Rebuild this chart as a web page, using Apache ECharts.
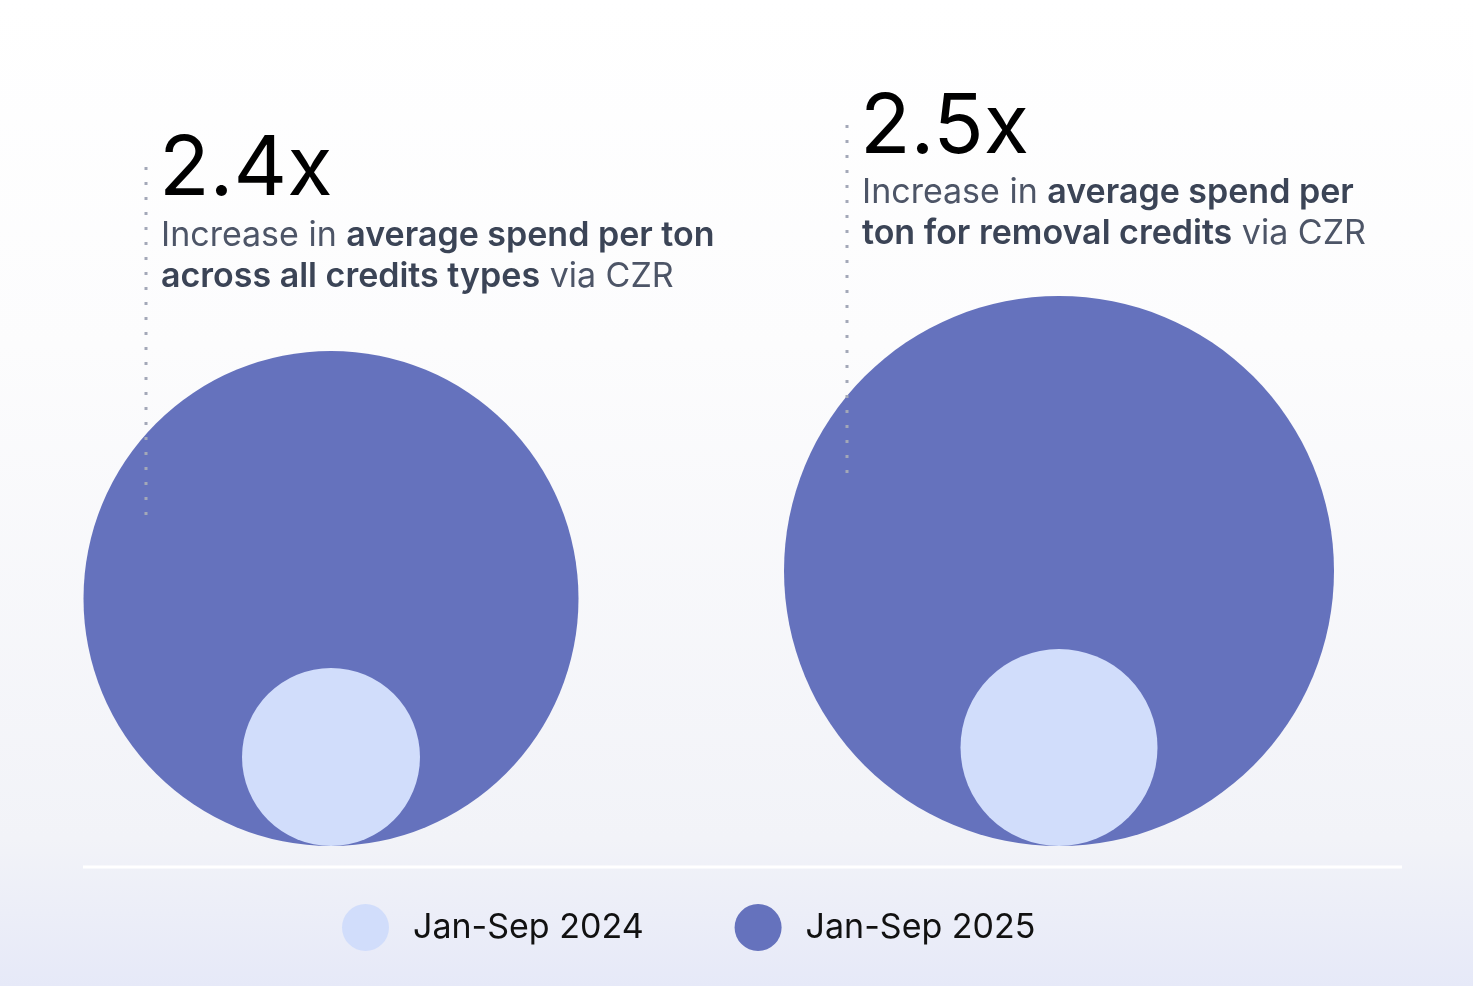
<!DOCTYPE html>
<html><head><meta charset="utf-8">
<script src="https://cdn.jsdelivr.net/npm/echarts@6/dist/echarts.min.js"></script>
<style>html,body{margin:0;padding:0;}#c{width:1473px;height:986px;}</style>
</head><body><div id="c"></div>
<script>
// Data
const categories = ['All credit types', 'Removal credits'];
const seriesNames = ['Jan-Sep 2024', 'Jan-Sep 2025'];
// relative circle sizes (diameter, in chart units)
const size2024 = [178, 197];
const size2025 = [495, 550];
const multipliers = ['2.4x', '2.5x'];
const colors = ['#D1DDFB', '#6572BD'];

const chart = echarts.init(document.getElementById('c'));

function circleRender(params, api) {
  const d = api.value(1);
  const c = api.coord([api.value(0), d / 2]);
  const r = api.size([0, d])[1] / 2;
  return { type: 'circle', shape: { cx: c[0], cy: c[1], r: r }, style: { fill: api.visual('color') } };
}

const regular = { fontFamily: 'Inter', fontSize: 34, fill: '#4d5567', fontWeight: 400 };
const bold = { fontFamily: 'Inter', fontSize: 34, fill: '#3b4456', fontWeight: 600 };

function annotation(x, lineTop, lineBottom, numY, textY, lines) {
  return [
    { type: 'line', z: 100, shape: { x1: x, y1: lineTop, x2: x, y2: lineBottom },
      style: { stroke: '#a3a8b8', lineWidth: 3, lineDash: [3, 12] } },
    { type: 'text', z: 100, x: x + 13, y: numY,
      style: { text: multipliers[lines.idx], fontFamily: 'Inter', fontSize: 83, fill: '#000', verticalAlign: 'middle' } },
    { type: 'text', z: 100, x: x + 15, y: textY,
      style: { text: lines.text, rich: { r: regular, b: bold }, lineHeight: 41, verticalAlign: 'top', fontFamily: 'Inter', fontSize: 34 } }
  ];
}

const option = {
  backgroundColor: new echarts.graphic.LinearGradient(0, 0, 0, 1, [
    { offset: 0, color: '#ffffff' },
    { offset: 0.35, color: '#fcfcfd' },
    { offset: 0.85, color: '#f2f3f8' },
    { offset: 1, color: '#e6e9f8' }
  ]),
  animation: false,
  grid: { left: 331, right: 414, top: 246, bottom: 140 },
  xAxis: { type: 'category', data: categories, boundaryGap: false, show: false },
  yAxis: { type: 'value', min: 0, max: 600, show: false },
  legend: {
    data: seriesNames, left: 342, top: 904, padding: 0, icon: 'circle', itemWidth: 47, itemHeight: 47, itemGap: 91,
    textStyle: { fontFamily: 'Inter', fontSize: 34, color: '#111', padding: [0, 0, 0, 19] }
  },
  series: [
    { name: seriesNames[0], type: 'custom', z: 3, color: colors[0], itemStyle: { color: colors[0] },
      renderItem: circleRender, data: size2024.map((v, i) => [i, v]) },
    { name: seriesNames[1], type: 'custom', z: 2, color: colors[1], itemStyle: { color: colors[1] },
      renderItem: circleRender, data: size2025.map((v, i) => [i, v]) }
  ],
  graphic: [
    { type: 'line', shape: { x1: 83, y1: 867, x2: 1402, y2: 867 }, style: { stroke: '#ffffff', lineWidth: 3 } },
    ...annotation(146, 167, 522, 170, 215, { idx: 0, text: '{r|Increase in }{b|average spend per ton}\n{b|across all credits types}{r| via CZR}' }),
    ...annotation(847, 125, 480, 128, 172, { idx: 1, text: '{r|Increase in }{b|average spend per}\n{b|ton for removal credits}{r| via CZR}' })
  ]
};
chart.setOption(option);
</script></body></html>
